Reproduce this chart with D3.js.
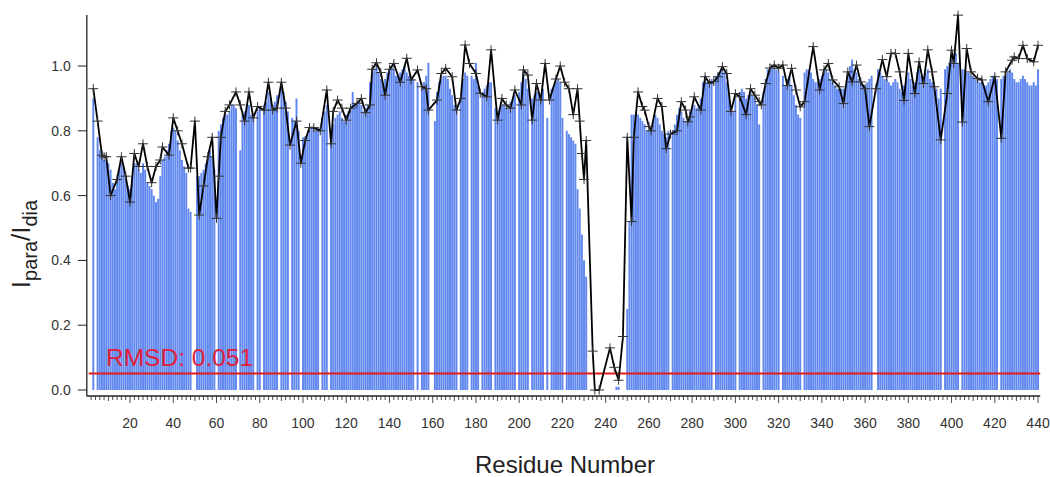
<!DOCTYPE html>
<html>
<head>
<meta charset="utf-8">
<script src="https://cdn.jsdelivr.net/npm/d3@7"></script>
<style>
  body { margin: 0; background: #fff; }
  text { font-family: Arial, "Liberation Sans", sans-serif; }
</style>
</head>
<body>
<div id="chart"></div>
<script>
// residue numbers 1..440 (bars), calculated Ipara/Idia per residue, null = no value
var residues = d3.range(1, 441);
var calcValues = [
  null, null, 0.90, null, 0.78, 0.74, 0.72, 0.71, 0.71, 0.70,
  0.68, 0.64, 0.62, 0.65, 0.68, 0.70, 0.69, 0.66, 0.63, 0.62,
  0.66, 0.70, 0.70, 0.68, 0.67, 0.70, 0.68, 0.64, 0.63, 0.62,
  0.60, 0.58, 0.59, 0.66, 0.71, 0.72, 0.74, 0.76, 0.80, 0.81,
  0.80, 0.77, 0.74, 0.71, 0.69, 0.67, 0.56, 0.55, null, null,
  0.66, 0.66, 0.67, 0.68, 0.70, 0.72, 0.74, 0.72, 0.68, null,
  0.80, 0.82, 0.84, 0.86, 0.85, 0.86, 0.88, 0.88, 0.87, null,
  0.74, 0.85, 0.86, 0.88, 0.88, 0.85, 0.84, null, 0.86, 0.87,
  null, 0.88, 0.89, 0.92, 0.90, 0.88, 0.89, 0.91, null, 0.93,
  0.92, 0.89, 0.86, null, 0.84, 0.83, 0.90, 0.80, null, 0.78,
  0.78, 0.79, 0.80, 0.81, 0.81, 0.80, 0.81, null, 0.84, 0.86,
  0.88, null, 0.80, 0.82, 0.84, 0.85, 0.86, 0.84, 0.83, 0.85,
  0.86, 0.87, 0.92, 0.88, 0.88, 0.89, 0.88, 0.86, 0.87, 0.88,
  0.95, 0.98, 0.99, 1.00, 0.98, 0.96, 0.94, 0.96, 0.98, 0.99,
  1.00, 0.99, 0.97, 0.97, 0.98, 0.99, 1.00, 0.98, 0.97, 0.96,
  0.96, null, 0.95, null, 0.93, 0.95, 0.97, 1.01, null, null,
  0.83, 0.92, 0.95, 0.96, 0.97, 0.97, 0.96, 0.93, 0.91, 0.88,
  0.87, null, 0.90, 0.96, 0.98, 0.97, null, 0.97, 0.96, 1.01,
  0.94, null, 0.92, 0.93, 0.94, 0.95, 0.95, null, 0.87, 0.86,
  0.87, 0.88, 0.88, 0.87, 0.87, 0.89, 0.90, 0.91, null, 0.92,
  0.95, 0.98, 0.96, 0.93, null, 0.90, 0.91, 0.92, 0.92, 0.91,
  0.93, null, 0.84, null, 0.93, 0.94, 0.95, 0.96, 0.95, 0.84,
  null, 0.80, 0.79, 0.78, 0.77, 0.76, 0.62, 0.56, 0.48, 0.40,
  0.35, null, null, null, null, null, null, null, null, null,
  null, null, null, null, 0.01, 0.01, null, null, null, 0.25,
  0.52, 0.85, 0.85, 0.86, 0.85, 0.84, 0.83, 0.82, 0.80, 0.80,
  0.81, 0.83, 0.85, 0.84, 0.82, 0.80, 0.79, 0.78, 0.80, null,
  0.80, 0.82, 0.85, 0.87, 0.86, 0.84, 0.83, 0.84, 0.86, 0.87,
  0.88, 0.87, 0.88, 0.90, 0.95, 0.97, 0.95, 0.95, 0.96, null,
  0.97, 0.98, 0.98, 0.99, 0.98, 0.95, 0.92, 0.87, 0.86, 0.90,
  null, 0.92, 0.93, 0.92, 0.90, 0.91, 0.92, 0.91, 0.90, 0.88,
  0.82, null, 0.92, 0.96, 0.99, 0.99, 1.00, 0.99, 0.99, 0.98,
  null, 0.97, 0.94, 0.96, 0.97, 0.94, 0.91, 0.88, 0.85, 0.84,
  null, 0.98, 0.99, 0.99, 0.98, 0.96, 0.95, 0.95, 0.96, 0.97,
  0.98, 0.99, 0.98, 0.96, 0.95, 0.94, 0.93, 0.93, 0.93, 0.93,
  0.94, 0.98, 1.00, 1.02, 0.99, 0.98, 0.96, 0.95, 0.94, 0.94,
  0.95, 0.96, 0.97, null, null, 0.99, 0.98, 0.97, 0.96, 0.96,
  0.95, 0.94, 0.95, 0.96, 0.95, 0.93, 0.92, 0.94, 0.96, 0.98,
  0.96, 0.94, 0.95, 0.98, 0.99, 0.97, 0.96, 0.98, 0.99, 0.96,
  0.95, 0.94, 0.93, 0.90, 0.93, null, 0.99, 1.00, 1.01, 1.02,
  1.01, 1.04, 1.01, null, 0.99, 0.99, 0.98, 0.98, 0.97, 0.97,
  0.96, 0.96, 0.95, 0.95, 0.94, 0.94, 0.95, 0.96, 0.97, 0.97,
  0.96, null, 0.96, 0.97, 0.97, 0.98, 0.99, 0.98, 0.96, 0.95,
  0.95, 0.96, 0.97, 0.96, 0.95, 0.94, 0.94, 0.95, 0.94, 0.99
];

// experimental points (black line with + markers)
var exptResidues = [
  3, 5, 7, 8, 9, 11, 14, 16, 18, 20, 22, 24, 26, 28, 30, 32, 34, 35, 38, 40,
  42, 44, 47, 48, 50, 52, 54, 56, 58, 60, 61, 62, 64, 66, 69, 71, 73, 75, 77, 79,
  82, 84, 86, 88, 90, 92, 94, 97, 99, 101, 103, 105, 108, 111, 113, 114, 116, 118, 120, 122,
  125, 127, 129, 131, 132, 134, 136, 138, 140, 142, 145, 148, 150, 153, 155, 157, 158, 162, 164, 166,
  169, 171, 173, 175, 177, 180, 182, 185, 187, 190, 192, 194, 196, 198, 201, 202, 204, 206, 208, 210,
  212, 214, 217, 219, 221, 223, 225, 227, 228, 229, 230, 231, 234, 235, 237, 242, 244, 246, 248, 250,
  252, 253, 255, 257, 258, 260, 261, 264, 266, 268, 270, 273, 275, 277, 278, 279, 281, 284, 286, 288,
  290, 292, 294, 296, 298, 300, 302, 305, 307, 309, 311, 312, 314, 316, 318, 320, 322, 324, 326, 328,
  330, 332, 336, 339, 341, 343, 345, 348, 350, 352, 354, 356, 358, 360, 362, 365, 368, 370, 372, 374,
  376, 378, 380, 383, 385, 387, 389, 391, 392, 395, 398, 400, 401, 403, 405, 407, 409, 412, 414, 417,
  420, 423, 425, 428, 429, 431, 433, 435, 438, 440
];
var exptValues = [
  0.93, 0.83, 0.725, 0.72, 0.72, 0.60, 0.65, 0.72, 0.66, 0.58, 0.73, 0.69, 0.76, 0.69, 0.64, 0.69, 0.71, 0.75, 0.725, 0.84,
  0.80, 0.76, 0.685, 0.685, 0.83, 0.54, 0.63, 0.72, 0.78, 0.53, 0.66, 0.78, 0.86, 0.88, 0.92, 0.88, 0.83, 0.92, 0.84, 0.875,
  0.864, 0.95, 0.864, 0.87, 0.95, 0.87, 0.756, 0.83, 0.70, 0.77, 0.81, 0.81, 0.80, 0.926, 0.76, 0.86, 0.895, 0.87, 0.833, 0.87,
  0.885, 0.90, 0.856, 0.88, 0.99, 1.01, 0.98, 0.91, 0.99, 1.008, 0.95, 1.024, 0.957, 0.988, 0.936, 0.93, 0.864, 0.895, 0.977, 0.993,
  0.967, 0.864, 0.90, 1.065, 1.008, 0.977, 0.916, 0.905, 1.05, 0.833, 0.90, 0.88, 0.87, 0.926, 0.88, 0.988, 0.972, 0.833, 0.946, 0.895,
  1.008, 0.895, 0.96, 1.00, 0.95, 0.93, 0.85, 0.93, 0.83, 0.73, 0.65, 0.77, 0.12, 0.00, 0.00, 0.13, 0.07, 0.03, 0.165, 0.78,
  0.52, 0.78, 0.92, 0.875, 0.864, 0.813, 0.80, 0.90, 0.875, 0.745, 0.79, 0.80, 0.89, 0.864, 0.828, 0.843, 0.905, 0.864, 0.967, 0.947,
  0.952, 0.967, 0.998, 0.977, 0.86, 0.915, 0.905, 0.85, 0.93, 0.91, 0.89, 0.88, 0.946, 0.994, 1.003, 0.993, 1.003, 0.94, 0.993, 0.926,
  0.874, 0.89, 1.06, 0.926, 0.988, 1.008, 0.957, 0.936, 0.884, 0.982, 0.951, 1.003, 0.951, 0.93, 0.813, 0.93, 1.02, 0.967, 1.039, 1.039,
  0.982, 0.894, 1.039, 0.915, 1.013, 0.946, 1.05, 0.982, 0.936, 0.772, 0.915, 1.049, 1.008, 1.157, 0.827, 1.054, 0.982, 0.962, 0.957, 0.89,
  0.967, 0.777, 0.982, 1.018, 1.028, 1.023, 1.064, 1.023, 1.013, 1.064
];

var yTicks = [0, 0.2, 0.4, 0.6, 0.8, 1.0];
var xTicks = d3.range(20, 441, 20);
var xMinorTicks = d3.range(2, 441, 2);
var rmsd = 0.051;

var width = 1050, height = 477;

var x = d3.scaleLinear().domain([0, 441]).range([86.8, 1040.2]);
var y = d3.scaleLinear().domain([0, 1.16]).range([390, 14.2]);
var step = x(1) - x(0);

var svg = d3.select("#chart")
    .append("svg")
    .attr("width", width)
    .attr("height", height);

// calculated bars
var bars = residues.map(function(r, i) { return {r: r, v: calcValues[i]}; })
    .filter(function(d) { return d.v !== null; });

svg.append("g")
    .selectAll("rect")
    .data(bars)
    .enter()
    .append("rect")
    .attr("x", function(d) { return x(d.r) - step / 2 + 0.1; })
    .attr("width", step - 0.2)
    .attr("y", function(d) { return y(d.v); })
    .attr("height", function(d) { return y(0) - y(d.v); })
    .attr("fill", "#6188ee");

// rmsd line + label
svg.append("line")
    .attr("x1", x(0) + 2)
    .attr("x2", x(441))
    .attr("y1", y(rmsd))
    .attr("y2", y(rmsd))
    .attr("stroke", "#e41a1c")
    .attr("stroke-width", 2);

svg.append("text")
    .attr("x", 106)
    .attr("y", 366)
    .attr("font-size", 24.5)
    .attr("fill", "#e0203a")
    .text("RMSD: " + rmsd.toFixed(3));

// experimental line
var expt = exptResidues.map(function(r, i) { return {r: r, v: exptValues[i]}; });

svg.append("path")
    .datum(expt)
    .attr("fill", "none")
    .attr("stroke", "#000")
    .attr("stroke-width", 1.8)
    .attr("stroke-linejoin", "round")
    .attr("d", d3.line()
        .x(function(d) { return x(d.r); })
        .y(function(d) { return y(d.v); }));

svg.append("g")
    .selectAll("path")
    .data(expt)
    .enter()
    .append("path")
    .attr("transform", function(d) { return "translate(" + x(d.r) + "," + y(d.v) + ")"; })
    .attr("d", "M-5,0H5M0,-4.5V4.5")
    .attr("stroke", "#333")
    .attr("stroke-width", 1);

// y axis
var yAxis = svg.append("g").attr("transform", "translate(" + x(0) + ",0)");
yAxis.append("line")
    .attr("y1", 15).attr("y2", 396)
    .attr("stroke", "#222").attr("stroke-width", 1.3);
yAxis.selectAll(".ytick")
    .data(yTicks)
    .enter()
    .append("line")
    .attr("x1", -9).attr("x2", 0)
    .attr("y1", function(d) { return y(d); })
    .attr("y2", function(d) { return y(d); })
    .attr("stroke", "#222");
yAxis.selectAll(".ylab")
    .data(yTicks)
    .enter()
    .append("text")
    .attr("x", -16)
    .attr("y", function(d) { return y(d); })
    .attr("dy", "0.35em")
    .attr("text-anchor", "end")
    .attr("font-size", 14)
    .attr("fill", "#333")
    .text(function(d) { return d.toFixed(1); });

// x axis
var xAxis = svg.append("g").attr("transform", "translate(0,396)");
xAxis.append("line")
    .attr("x1", x(0)).attr("x2", x(441))
    .attr("stroke", "#222").attr("stroke-width", 1.3);
xAxis.selectAll(".minor")
    .data(xMinorTicks)
    .enter()
    .append("line")
    .attr("x1", function(d) { return x(d); })
    .attr("x2", function(d) { return x(d); })
    .attr("y1", 0)
    .attr("y2", function(d) { return d % 20 === 0 ? 7 : (d % 10 === 0 ? 5 : 4); })
    .attr("stroke", "#222")
    .attr("stroke-width", 0.8);
xAxis.selectAll(".xlab")
    .data(xTicks)
    .enter()
    .append("text")
    .attr("x", function(d) { return x(d); })
    .attr("y", 27)
    .attr("dy", "0.35em")
    .attr("text-anchor", "middle")
    .attr("font-size", 14)
    .attr("fill", "#333")
    .text(function(d) { return d; });

// axis titles
svg.append("text")
    .attr("x", 565)
    .attr("y", 473)
    .attr("text-anchor", "middle")
    .attr("font-size", 24)
    .attr("fill", "#222")
    .text("Residue Number");

var ylab = svg.append("text")
    .attr("transform", "translate(30,244) rotate(-90)")
    .attr("text-anchor", "middle")
    .attr("font-size", 26)
    .attr("fill", "#222");
ylab.append("tspan").text("I");
ylab.append("tspan").attr("font-size", 20).attr("dy", 7).text("para");
ylab.append("tspan").attr("dy", -7).text("/I");
ylab.append("tspan").attr("font-size", 20).attr("dy", 7).text("dia");
</script>
</body>
</html>
